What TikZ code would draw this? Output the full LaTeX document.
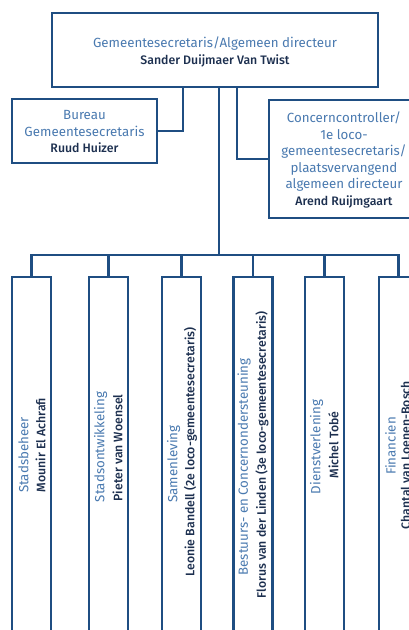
\documentclass[tikz,border=0pt]{standalone}
\usepackage{fontspec}
\setmainfont{Fira Sans}
\newfontfamily\medfont{Fira Sans Medium}
\usetikzlibrary{calc}
\definecolor{linec}{HTML}{1F4E82}
\definecolor{titlec}{HTML}{4A7AB0}
\definecolor{namec}{HTML}{1C2F4F}
\tikzset{
  box/.style={draw=linec, line width=2.4pt, fill=white, inner sep=0pt, rectangle},
  conn/.style={draw=linec, line width=2.4pt},
  txt/.style={align=center, font=\fontsize{13.3}{16.5}\selectfont, inner sep=0pt},
  vttl/.style={inner sep=0pt, rotate=90, font=\fontsize{13.3}{16}\selectfont, text=titlec},
  vnm/.style={inner sep=0pt, rotate=90, font=\fontsize{12.3}{16}\selectfont\medfont, text=namec},
}
\newcommand{\ttl}[1]{\textcolor{titlec}{#1}}
\newcommand{\nm}[1]{\textcolor{namec}{\fontsize{12.3}{16.5}\selectfont\medfont #1}}
\begin{document}
\begin{tikzpicture}[x=1pt,y=-1pt]
\useasboundingbox (0,0) rectangle (409,630);
\clip (0,0) rectangle (409,630);
% top box
\node[box, minimum width=326pt, minimum height=74pt] (top) at (215,50) {};
\node[txt] (toptxt) at (215,52) {\ttl{Gemeentesecretaris/Algemeen directeur}\\\nm{Sander Duijmaer Van Twist}};
% bureau
\node[box, minimum width=145pt, minimum height=64pt] (bureau) at (84.5,131) {};
\node[txt] (burtxt) at (84.5,132) {\ttl{Bureau}\\\ttl{Gemeentesecretaris}\\\nm{Ruud Huizer}};
% concern
\node[box, minimum width=150pt, minimum height=118pt] (concern) at (344,159) {};
\node[txt] (contxt) at (344,160) {\ttl{Concerncontroller/}\\\ttl{1e loco-}\\\ttl{gemeentesecretaris/}\\\ttl{plaatsvervangend}\\\ttl{algemeen directeur}\\\nm{Arend Ruijmgaart}};
% connectors top
\draw[conn] ([xshift=-32pt]top.south) |- (bureau.east);
\draw[conn] ([xshift=22pt]top.south) |- (concern.west);
\coordinate (bus) at (219,255);
\draw[conn] ([xshift=4pt]top.south) -- (bus);
% bottom boxes
\foreach \n/\cx in {b1/31.5, b2/108.5, b3/181.5, b4/253, b5/324.5, b6/398.5}{
  \node[box, minimum width=39pt, minimum height=380pt, anchor=north] (\n) at (\cx,276) {};
}
\draw[conn] (b1.north) |- (bus) -| (b6.north);
\foreach \n in {b2,b3,b4,b5}{
  \draw[conn] (\n.north) -- (\n.north |- bus);
}
\node[vttl] (t1) at ([xshift=-8pt]b1.center |- 0,455) {Stadsbeheer};
\node[vnm]  (n1) at ([xshift=9pt]b1.center |- 0,445) {Mounir El Achrafi};
\node[vttl] (t2) at ([xshift=-8pt]b2.center |- 0,447) {Stadsontwikkeling};
\node[vnm]  (n2) at ([xshift=9pt]b2.center |- 0,448) {Pieter van Woensel};
\node[vttl] (t3) at ([xshift=-8pt]b3.center |- 0,464) {Samenleving};
\node[vnm]  (n3) at ([xshift=9pt]b3.center |- 0,452) {Leonie Bandell (2e loco-gemeentesecretaris)};
\node[vttl] (t4) at ([xshift=-9pt]b4.center |- 0,467) {Bestuurs- en Concernondersteuning};
\node[vnm]  (n4) at ([xshift=9pt]b4.center |- 0,455) {Florus van der Linden (3e loco-gemeentesecretaris)};
\node[vttl] (t5) at ([xshift=-8pt]b5.center |- 0,447) {Dienstverlening};
\node[vnm]  (n5) at ([xshift=9pt]b5.center |- 0,445) {Michel Tobé};
\node[vttl] (t6) at ([xshift=-8pt]b6.center |- 0,446) {Financien};
\node[vnm]  (n6) at ([xshift=7pt]b6.center |- 0,455) {Chantal van Loenen-Bosch};
\end{tikzpicture}
\end{document}
